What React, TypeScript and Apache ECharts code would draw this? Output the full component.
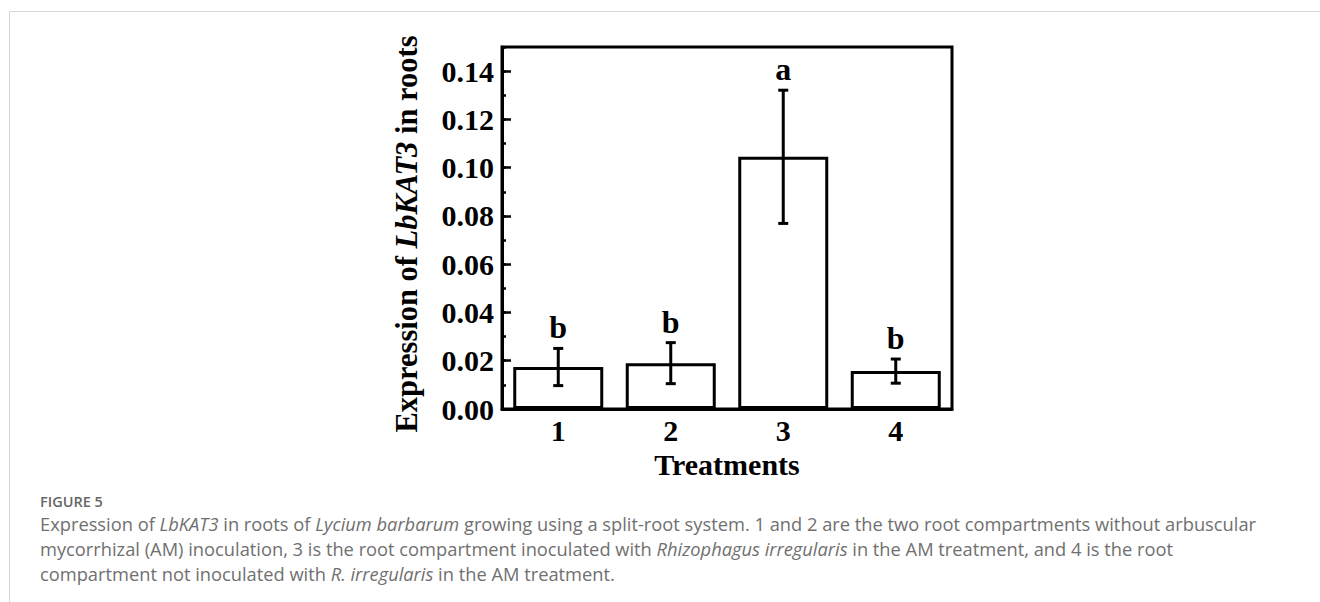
import React, { useEffect, useRef } from "react";
import * as echarts from "echarts";

const categories = ["1", "2", "3", "4"];
const means = [0.0174, 0.019, 0.1045, 0.0157];
const sds = [0.0077, 0.0085, 0.0276, 0.005];
const letters = ["b", "b", "a", "b"];
const yTicks = [0, 0.02, 0.04, 0.06, 0.08, 0.1, 0.12, 0.14];

const SERIF = "'Liberation Serif', 'Times New Roman', serif";
const SANS = "'Open Sans', Lato, sans-serif";
const CAP_SIZE = 18.3;

export default function App() {
  const ref = useRef<HTMLDivElement>(null);
  useEffect(() => {
    if (!ref.current) return;
    const chart = echarts.init(ref.current, null, { renderer: "svg" });
    const errData = means.map((m, i) => [i, m, sds[i]]);
    const capStyle = { fill: "#707070" };
    const option: any = {
      animation: false,
      backgroundColor: "#fff",
      grid: {
        left: 502,
        top: 47,
        width: 450,
        height: 362,
        show: true,
        borderColor: "#000",
        borderWidth: 3,
        backgroundColor: "transparent",
      },
      xAxis: {
        type: "category",
        data: categories,
        boundaryGap: true,
        axisLine: { show: true, lineStyle: { color: "#000", width: 3 } },
        axisTick: { show: false },
        axisLabel: {
          margin: 6,
          color: "#000",
          fontFamily: SERIF,
          fontWeight: "bold",
          fontSize: 30,
        },
        name: "Treatments",
        nameLocation: "middle",
        nameGap: 37,
        nameTextStyle: {
          color: "#000",
          fontFamily: SERIF,
          fontWeight: "bold",
          fontSize: 30,
        },
      },
      yAxis: [
        {
          type: "value",
          min: 0,
          max: 0.15,
          interval: 0.02,
          position: "left",
          splitLine: { show: false },
          axisLine: { show: true, lineStyle: { color: "#000", width: 3 } },
          axisTick: { show: true, inside: true, length: 9, lineStyle: { color: "#000", width: 2.5 } },
          axisLabel: {
            margin: 8,
            color: "#000",
            fontFamily: SERIF,
            fontWeight: "bold",
            fontSize: 30,
            showMaxLabel: false,
            formatter: (v: number) => {
              const t = yTicks.find((k) => Math.abs(k - v) < 1e-9);
              return t === undefined ? "" : t.toFixed(2);
            },
          },
          name: "Expression of {i|LbKAT3} in roots",
          nameLocation: "middle",
          nameRotate: 90,
          nameGap: 80,
          nameTextStyle: {
            color: "#000",
            fontFamily: SERIF,
            fontWeight: "bold",
            fontSize: 30.5,
            padding: [0, 12, 0, 0],
            rich: {
              i: {
                fontFamily: SERIF,
                fontWeight: "bold",
                fontStyle: "italic",
                fontSize: 30.5,
                color: "#000",
              },
            },
          },
        },
        {
          type: "value",
          min: 0,
          max: 0.15,
          interval: 0.01,
          position: "left",
          splitLine: { show: false },
          axisLine: { show: false },
          axisTick: { show: true, inside: true, length: 4, lineStyle: { color: "#000", width: 2.5 } },
          axisLabel: { show: false },
        },
      ],
      series: [
        {
          type: "bar",
          data: means,
          barWidth: "80%",
          itemStyle: { color: "#fff", borderColor: "#000", borderWidth: 3 },
          silent: true,
        },
        {
          type: "custom",
          data: errData,
          clip: false,
          z: 10,
          renderItem: (params: any, api: any) => {
            const i = api.value(0);
            const m = api.value(1);
            const s = api.value(2);
            const hi = api.coord([i, m + s]);
            const lo = api.coord([i, m - s]);
            const cw = 5;
            const st = { stroke: "#000", lineWidth: 3 };
            return {
              type: "group",
              children: [
                { type: "line", shape: { x1: hi[0], y1: hi[1], x2: lo[0], y2: lo[1] }, style: st },
                { type: "line", shape: { x1: hi[0] - cw, y1: hi[1], x2: hi[0] + cw, y2: hi[1] }, style: st },
                { type: "line", shape: { x1: lo[0] - cw, y1: lo[1], x2: lo[0] + cw, y2: lo[1] }, style: st },
                {
                  type: "text",
                  x: hi[0],
                  y: hi[1] - 5,
                  style: {
                    text: letters[params.dataIndex],
                    fontFamily: SERIF,
                    fontWeight: "bold",
                    fontSize: 32,
                    fill: "#000",
                    textAlign: "center",
                    textVerticalAlign: "bottom",
                  },
                },
              ],
            };
          },
        },
      ],
      graphic: [
        {
          type: "rect",
          shape: { x: 9.5, y: 11.5, width: 1400, height: 700 },
          style: { fill: "none", stroke: "#d6d6d6", lineWidth: 1 },
          silent: true,
        },
        {
          type: "text",
          x: 40,
          y: 501,
          style: {
            text: "FIGURE 5",
            fontFamily: SANS,
            fontWeight: 600,
            fontSize: 14.5,
            fill: "#666",
            textVerticalAlign: "middle",
          },
        },
        {
          type: "text",
          x: 40,
          y: 523,
          style: {
            text: "Expression of {i|LbKAT3} in roots of {i|Lycium barbarum} growing using a split-root system. 1 and 2 are the two root compartments without arbuscular",
            fontFamily: SANS,
            fontSize: CAP_SIZE,
            ...capStyle,
            textVerticalAlign: "middle",
            rich: { i: { fontFamily: SANS, fontSize: CAP_SIZE, fontStyle: "italic", ...capStyle } },
          },
        },
        {
          type: "text",
          x: 40,
          y: 548,
          style: {
            text: "mycorrhizal (AM) inoculation, 3 is the root compartment inoculated with {i|Rhizophagus irregularis} in the AM treatment, and 4 is the root",
            fontFamily: SANS,
            fontSize: CAP_SIZE,
            ...capStyle,
            textVerticalAlign: "middle",
            rich: { i: { fontFamily: SANS, fontSize: CAP_SIZE, fontStyle: "italic", ...capStyle } },
          },
        },
        {
          type: "text",
          x: 40,
          y: 573,
          style: {
            text: "compartment not inoculated with {i|R. irregularis} in the AM treatment.",
            fontFamily: SANS,
            fontSize: CAP_SIZE,
            ...capStyle,
            textVerticalAlign: "middle",
            rich: { i: { fontFamily: SANS, fontSize: CAP_SIZE, fontStyle: "italic", ...capStyle } },
          },
        },
      ],
    };
    chart.setOption(option);
    return () => chart.dispose();
  }, []);
  return (
    <div
      ref={ref}
      style={{ position: "absolute", left: 0, top: 0, width: 1320, height: 602, background: "#fff" }}
    />
  );
}
